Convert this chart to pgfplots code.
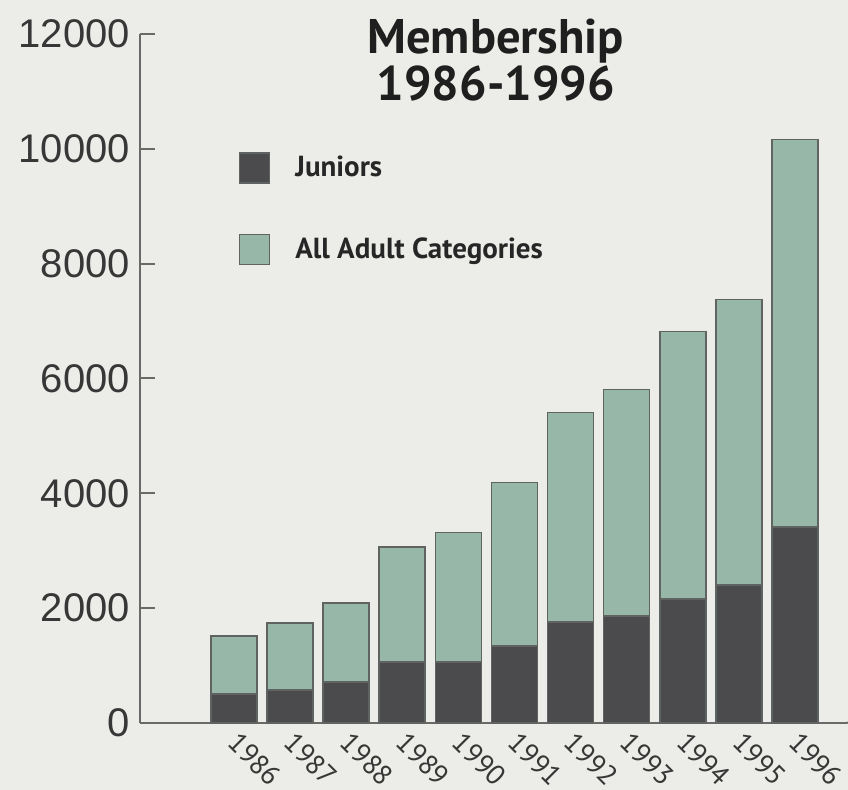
\documentclass[border=0pt]{standalone}
\usepackage{fontspec}
\setmainfont{Liberation Sans}
\newfontfamily\titlefont{PT Sans}
\usepackage{pgfplots}
\pgfplotsset{compat=1.18}

\definecolor{bgc}{RGB}{236,236,232}
\definecolor{axisgray}{RGB}{105,105,105}
\definecolor{labelgray}{RGB}{55,55,55}
\definecolor{edgegray}{RGB}{95,100,98}
\definecolor{junior}{RGB}{75,75,78}
\definecolor{adult}{RGB}{151,184,169}

\begin{document}
\begin{tikzpicture}
\fill[bgc] (-70pt,-33.5pt) rectangle (354pt,361.5pt);
\begin{axis}[
    at={(0,0)}, anchor=south west,
    scale only axis, width=353pt, height=344.5pt,
    clip=false,
    ybar stacked, bar width=23pt,
    xmin=-1.676, xmax=10.91, ymin=0, ymax=12000,
    axis x line=bottom, axis y line=left,
    axis line style={draw=axisgray, line width=1pt, -},
    ytick={0,2000,4000,6000,8000,10000,12000},
    scaled y ticks=false,
    /pgf/number format/assume math mode=true,
    /pgf/number format/1000 sep={},
    yticklabel style={font=\fontsize{20}{24}\selectfont, text=labelgray, xshift=-1.5pt},
    xtick={0,1,2,3,4,5,6,7,8,9,10},
    xticklabels={1986,1987,1988,1989,1990,1991,1992,1993,1994,1995,1996},
    x tick style={draw=none},
    xticklabel style={font=\titlefont\fontsize{14}{15}\selectfont, text=labelgray,
        rotate=-45, anchor=north west, inner sep=0.5pt, xshift=4.2pt, yshift=0.3pt},
    y tick style={draw=axisgray, line width=1pt},
    tick align=inside, major tick length=7.5pt,
    legend style={at={(axis description cs:0.139,0.829)}, anchor=north west,
        draw=none, fill=none, inner sep=0pt, row sep=25pt,
        font=\titlefont\bfseries\fontsize{14.5}{16}\selectfont, text=black!85,
        cells={anchor=west}},
]
\addplot+[fill=junior, draw=edgegray, line width=0.8pt,
    legend image code/.code={\path[draw=none, fill=none] (0pt,0pt) -- (26pt,0pt);
        \draw[fill=junior, draw=edgegray, line width=0.8pt] (0pt,-7.5pt) rectangle (15pt,7.5pt);}]
    coordinates {(0,500) (1,575) (2,710) (3,1060) (4,1060) (5,1340) (6,1755) (7,1860) (8,2155) (9,2400) (10,3410)};
\addlegendentry{Juniors}
\addplot+[fill=adult, draw=edgegray, line width=0.8pt,
    legend image code/.code={\path[draw=none, fill=none] (0pt,0pt) -- (26pt,0pt);
        \draw[fill=adult, draw=edgegray, line width=0.8pt] (0pt,-7.5pt) rectangle (15pt,7.5pt);}]
    coordinates {(0,1010) (1,1165) (2,1380) (3,2000) (4,2260) (5,2850) (6,3655) (7,3950) (8,4665) (9,4975) (10,6750)};
\addlegendentry{All Adult Categories}
\draw[axisgray, line width=1pt] (axis description cs:1,0) -- ++(0,8pt);
\node[font=\titlefont\bfseries\fontsize{24.3}{23.5}\selectfont, text=black!88, align=center]
    at (axis description cs:0.504,0.962) {Membership\\1986-1996};
\end{axis}
\pgfresetboundingbox
\useasboundingbox (-70pt,-33.5pt) rectangle (354pt,361.5pt);
\end{tikzpicture}
\end{document}
